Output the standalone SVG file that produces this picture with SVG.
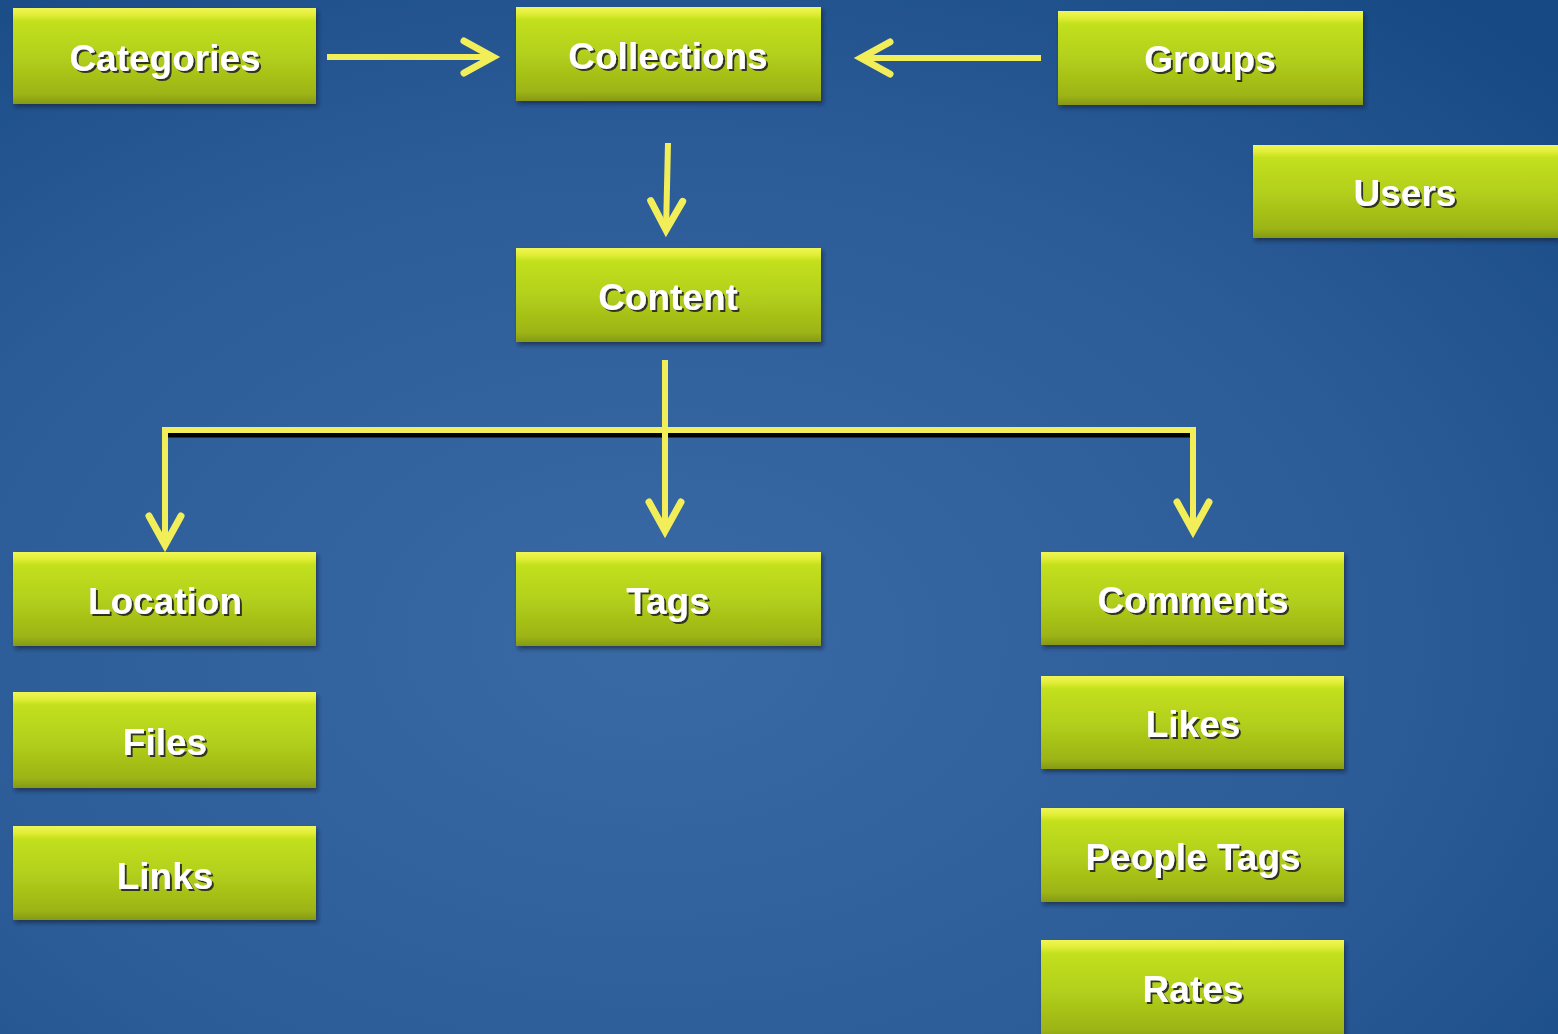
<svg xmlns="http://www.w3.org/2000/svg" width="1558" height="1034" viewBox="0 0 1558 1034">
<defs>
<radialGradient id="bg" cx="0.42" cy="0.62" r="0.8">
<stop offset="0" stop-color="#3a6aa5"/>
<stop offset="0.6" stop-color="#2c5c98"/>
<stop offset="1" stop-color="#174a84"/>
</radialGradient>
<linearGradient id="box" x1="0" y1="0" x2="0" y2="1">
<stop offset="0" stop-color="#f0f658"/>
<stop offset="0.07" stop-color="#e2ee38"/>
<stop offset="0.14" stop-color="#c2e01a"/>
<stop offset="0.5" stop-color="#b3d01c"/>
<stop offset="0.9" stop-color="#9cb414"/>
<stop offset="1" stop-color="#869812"/>
</linearGradient>
<filter id="sh" x="-10%" y="-10%" width="120%" height="130%">
<feDropShadow dx="2" dy="3" stdDeviation="2" flood-color="#0a1a30" flood-opacity="0.6"/>
</filter>
<filter id="tsh" x="-10%" y="-20%" width="120%" height="150%">
<feDropShadow dx="2" dy="2" stdDeviation="0.6" flood-color="#222" flood-opacity="0.9"/>
</filter>
<marker id="ah" viewBox="-40 -25 50 50" refX="0" refY="0" markerWidth="50" markerHeight="50" markerUnits="userSpaceOnUse" orient="auto" overflow="visible">
<path d="M-30,-16 L-1,0 L-30,16" fill="none" stroke="#f2ee5a" stroke-width="7" stroke-linecap="round" stroke-linejoin="miter"/>
</marker>
</defs>
<style>
.b{fill:url(#box);filter:url(#sh);}
.t{font-family:"Liberation Sans",Arial,sans-serif;font-weight:bold;font-size:37px;fill:#ffffff;text-anchor:middle;filter:url(#tsh);}
.c{fill:none;stroke:#f2ee5a;stroke-width:6;}
</style>
<rect width="1558" height="1034" fill="url(#bg)"/>
<g id="connectors">
<line x1="168" y1="435" x2="1190" y2="435" stroke="#000" stroke-width="5"/>
<line class="c" x1="327" y1="57" x2="494" y2="57" marker-end="url(#ah)"/>
<line class="c" x1="1041" y1="58" x2="860" y2="58" marker-end="url(#ah)"/>
<line class="c" x1="668" y1="143" x2="666" y2="231" marker-end="url(#ah)"/>
<line class="c" x1="665" y1="360" x2="665" y2="532" marker-end="url(#ah)"/>
<polyline class="c" points="165,430 1193,430 1193,532" marker-end="url(#ah)"/>
<line class="c" x1="165" y1="427" x2="165" y2="546" marker-end="url(#ah)"/>
</g>
<g id="categories"><rect class="b" x="13" y="8" width="303" height="96"/><text class="t" x="165" y="71">Categories</text></g>
<g id="collections"><rect class="b" x="516" y="7" width="305" height="94"/><text class="t" x="668" y="69">Collections</text></g>
<g id="groups"><rect class="b" x="1058" y="11" width="305" height="94"/><text class="t" x="1210" y="72">Groups</text></g>
<g id="users"><rect class="b" x="1253" y="145" width="305" height="93"/><text class="t" x="1405" y="206">Users</text></g>
<g id="content"><rect class="b" x="516" y="248" width="305" height="94"/><text class="t" x="668" y="310">Content</text></g>
<g id="location"><rect class="b" x="13" y="552" width="303" height="94"/><text class="t" x="165" y="614">Location</text></g>
<g id="tags"><rect class="b" x="516" y="552" width="305" height="94"/><text class="t" x="668" y="614">Tags</text></g>
<g id="comments"><rect class="b" x="1041" y="552" width="303" height="93"/><text class="t" x="1193" y="613">Comments</text></g>
<g id="likes"><rect class="b" x="1041" y="676" width="303" height="93"/><text class="t" x="1193" y="737">Likes</text></g>
<g id="files"><rect class="b" x="13" y="692" width="303" height="96"/><text class="t" x="165" y="755">Files</text></g>
<g id="links"><rect class="b" x="13" y="826" width="303" height="94"/><text class="t" x="165" y="889">Links</text></g>
<g id="peopletags"><rect class="b" x="1041" y="808" width="303" height="94"/><text class="t" x="1193" y="870">People Tags</text></g>
<g id="rates"><rect class="b" x="1041" y="940" width="303" height="100"/><text class="t" x="1193" y="1002">Rates</text></g>
</svg>
